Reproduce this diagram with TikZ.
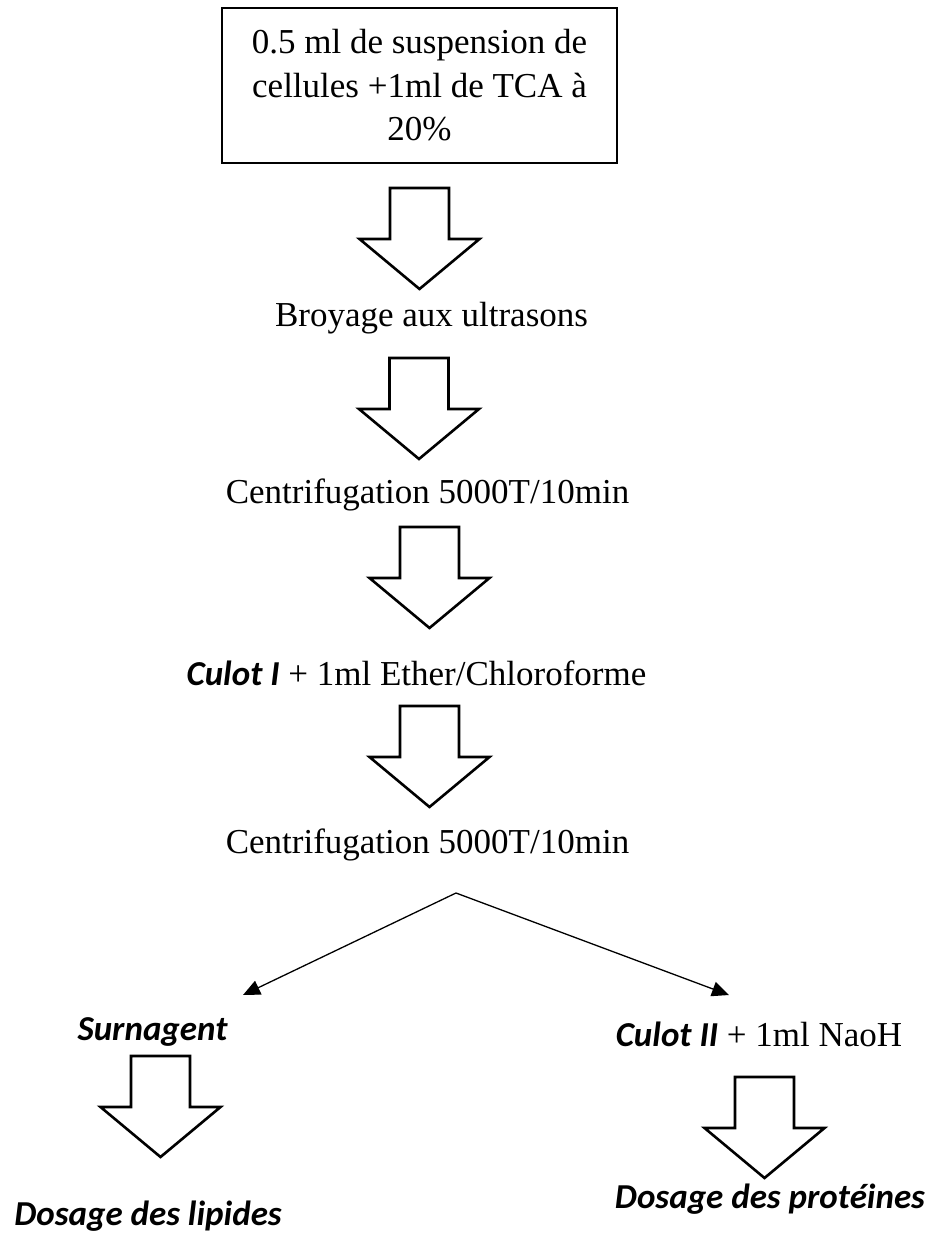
\documentclass[tikz,border=0pt]{standalone}
\usepackage{fontspec}
\setmainfont{Liberation Serif}
\newfontfamily\calib{Carlito}
\usetikzlibrary{arrows.meta}
\tikzset{
  lbl/.style={anchor=base, inner sep=0pt, font=\fontsize{35}{43.5}\selectfont},
  bi/.style={font=\fontsize{35}{43.5}\selectfont\calib\bfseries\itshape},
  startbox/.style={draw, line width=2.6pt, minimum width=395pt, minimum height=155pt,
    align=center, inner sep=0pt, font=\fontsize{35}{43.5}\selectfont},
  blockarr/.pic={\draw[line width=2.6pt, line join=miter, fill=white]
    (-29.5,0) -- (29.5,0) -- (29.5,51) -- (60,51) -- (0,101) -- (-60,51) -- (-29.5,51) -- cycle;},
  branch/.style={line width=1.3pt, -{Triangle[length=17pt,width=15pt]}}
}
\newcommand{\ci}[1]{{\calib\bfseries\itshape #1}}
\begin{document}
\begin{tikzpicture}[x=1pt,y=-1pt]
\useasboundingbox (0,0) rectangle (936,1236);
\node[startbox] (start) at (419.5,85.5) {0.5 ml de suspension de\\cellules +1ml de TCA à\\20\%};
\pic at (419.5,188) {blockarr};
\node[lbl] (broy) at (431.5,326) {Broyage aux ultrasons};
\pic at (419,358) {blockarr};
\node[lbl] (cent1) at (427.5,503) {Centrifugation 5000T/10min};
\pic at (429.5,527) {blockarr};
\node[lbl] (culot1) at (416.5,685) {\ci{Culot I} + 1ml Ether/Chloroforme};
\pic at (429.5,706) {blockarr};
\node[lbl] (cent2) at (427.5,853) {Centrifugation 5000T/10min};
\coordinate (apex) at (456,893);
\coordinate (lt) at (243,995);
\coordinate (rt) at (729,995);
\draw[branch] (apex) -- (lt);
\draw[branch] (apex) -- (rt);
\node[lbl, bi] (surn) at (152.5,1040) {Surnagent};
\node[lbl] (culot2) at (759,1046) {\ci{Culot II} + 1ml NaoH};
\pic at (160.5,1056) {blockarr};
\pic at (764.5,1077) {blockarr};
\node[lbl, bi] (lip) at (148,1225) {Dosage des lipides};
\node[lbl, bi] (prot) at (770,1208) {Dosage des protéines};
\end{tikzpicture}
\end{document}
